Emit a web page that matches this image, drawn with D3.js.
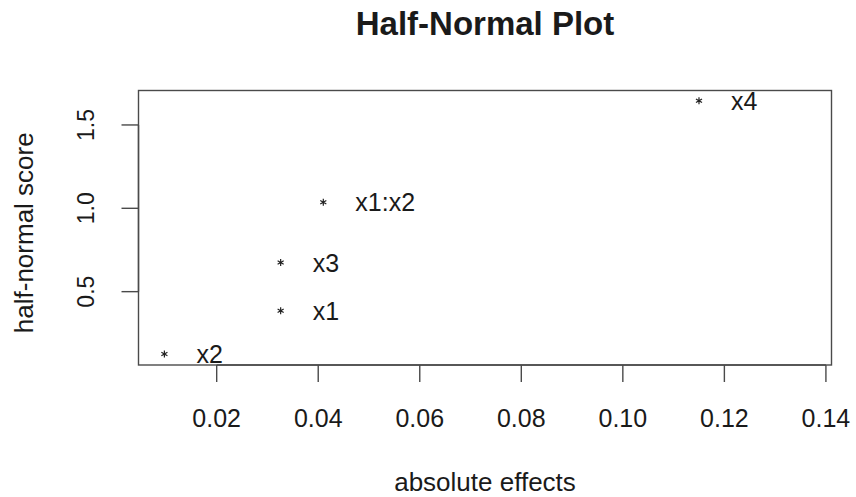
<!DOCTYPE html>
<html>
<head>
<meta charset="utf-8">
<script src="https://cdn.jsdelivr.net/npm/d3@7"></script>
<style>
  body { margin: 0; background: #fff; }
  text { font-family: 'Liberation Sans', Arial, Helvetica, sans-serif; fill: #1a1a1a; }
</style>
</head>
<body>
<div id="chart"></div>
<script>
// effects and their half-normal scores
const effectNames = ['x2', 'x1', 'x3', 'x1:x2', 'x4']
const absEffects = [0.0097, 0.0326, 0.0326, 0.0410, 0.1150]
const halfNormalScores = [0.1257, 0.3853, 0.6745, 1.0364, 1.6449]

const xTicks = [0.02, 0.04, 0.06, 0.08, 0.10, 0.12, 0.14]
const yTicks = [0.5, 1.0, 1.5]

const W = 856
const H = 497
const box = { left: 138.5, right: 831.5, top: 90.5, bottom: 365 }

const svg = d3.select('#chart').append('svg').attr('width', W).attr('height', H)

svg.append('rect').attr('width', W).attr('height', H).attr('fill', '#ffffff')

const x = d3.scaleLinear().domain([0.0046, 0.1411]).range([box.left, box.right])
const y = d3.scaleLinear().domain([0.06, 1.7067]).range([box.bottom, box.top])

const AXIS_COLOR = '#4a4a4a'
const TICK_LEN = 17

// plot frame
svg
  .append('rect')
  .attr('x', box.left)
  .attr('y', box.top)
  .attr('width', box.right - box.left)
  .attr('height', box.bottom - box.top)
  .attr('fill', 'none')
  .attr('stroke', AXIS_COLOR)
  .attr('stroke-width', 1.4)

// x axis
const xAxis = svg.append('g').attr('transform', `translate(0, ${box.bottom})`)
xAxis
  .append('line')
  .attr('x1', x(xTicks[0]))
  .attr('x2', x(xTicks[xTicks.length - 1]))
  .attr('stroke', AXIS_COLOR)
  .attr('stroke-width', 1.4)
xTicks.forEach((t) => {
  xAxis
    .append('line')
    .attr('x1', x(t))
    .attr('x2', x(t))
    .attr('y1', 0)
    .attr('y2', TICK_LEN)
    .attr('stroke', AXIS_COLOR)
    .attr('stroke-width', 1.4)
  xAxis
    .append('text')
    .attr('x', x(t))
    .attr('y', 61.5)
    .attr('text-anchor', 'middle')
    .attr('font-size', 25)
    .text(d3.format('.2f')(t))
})

// y axis
const yAxis = svg.append('g').attr('transform', `translate(${box.left}, 0)`)
yAxis
  .append('line')
  .attr('y1', y(yTicks[0]))
  .attr('y2', y(yTicks[yTicks.length - 1]))
  .attr('stroke', AXIS_COLOR)
  .attr('stroke-width', 1.4)
yTicks.forEach((t) => {
  yAxis
    .append('line')
    .attr('x1', -TICK_LEN)
    .attr('x2', 0)
    .attr('y1', y(t))
    .attr('y2', y(t))
    .attr('stroke', AXIS_COLOR)
    .attr('stroke-width', 1.4)
  yAxis
    .append('text')
    .attr('transform', `translate(-45, ${y(t)}) rotate(-90)`)
    .attr('text-anchor', 'middle')
    .attr('font-size', 23)
    .text(d3.format('.1f')(t))
})

// points as asterisks
const star = d3.symbol().type(d3.symbolAsterisk).size(34)
svg
  .append('g')
  .selectAll('path')
  .data(absEffects)
  .join('path')
  .attr('d', star)
  .attr('transform', (d, i) => `translate(${x(d)}, ${y(halfNormalScores[i])})`)
  .attr('fill', 'none')
  .attr('stroke', '#222')
  .attr('stroke-width', 1.2)

svg
  .append('g')
  .selectAll('text')
  .data(effectNames)
  .join('text')
  .attr('x', (d, i) => x(absEffects[i]) + 32)
  .attr('y', (d, i) => y(halfNormalScores[i]) + 9)
  .attr('font-size', 25)
  .text((d) => d)

// titles
svg
  .append('text')
  .attr('x', (box.left + box.right) / 2)
  .attr('y', 35)
  .attr('text-anchor', 'middle')
  .attr('font-size', 33)
  .attr('font-weight', 'bold')
  .text('Half-Normal Plot')

svg
  .append('text')
  .attr('x', (box.left + box.right) / 2)
  .attr('y', 491)
  .attr('text-anchor', 'middle')
  .attr('font-size', 26)
  .text('absolute effects')

svg
  .append('text')
  .attr('transform', `translate(33, ${(box.top + box.bottom) / 2 + 5}) rotate(-90)`)
  .attr('text-anchor', 'middle')
  .attr('font-size', 26)
  .text('half-normal score')
</script>
</body>
</html>
